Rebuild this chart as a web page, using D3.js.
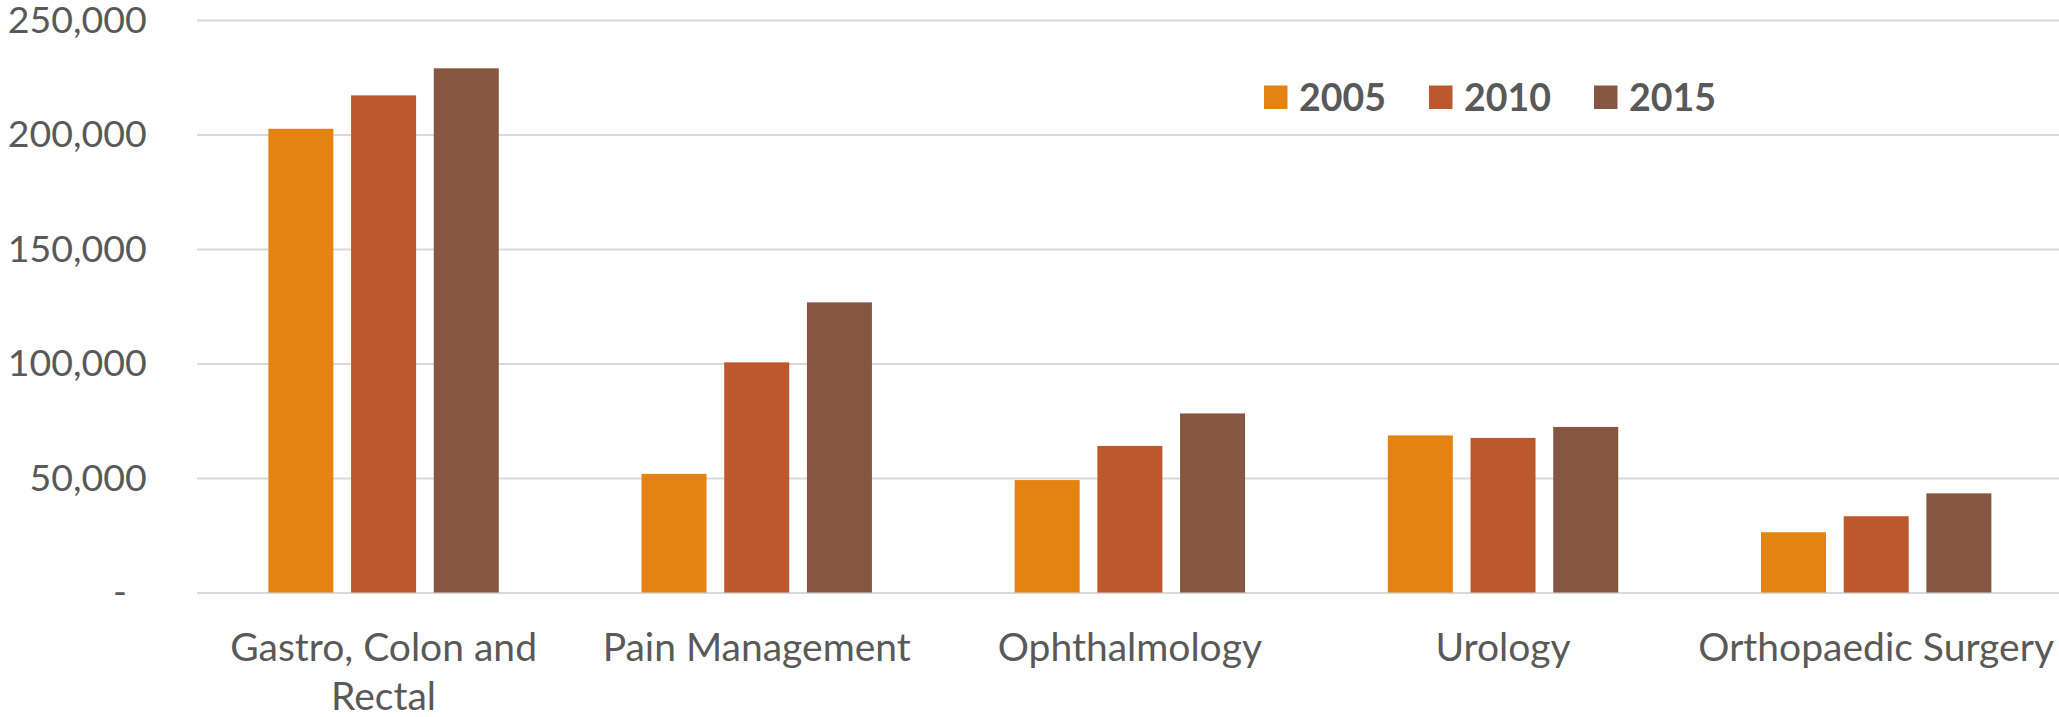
<!DOCTYPE html>
<html>
<head>
<meta charset="utf-8">
<script src="https://cdn.jsdelivr.net/npm/d3@7"></script>
<style>
    body { margin: 0; background: #fff; }
    svg { display: block; }
    text { font-family: Lato, "Open Sans", sans-serif; fill: #595959; }
</style>
</head>
<body>
<svg id="chart" width="2059" height="717"></svg>
<script>
(function () {
    "use strict";

    // chart data
    var categories = ["Gastro, Colon and Rectal", "Pain Management", "Ophthalmology", "Urology", "Orthopaedic Surgery"];
    var years = ["2005", "2010", "2015"];
    var values2005 = [202500, 51800, 49100, 68600, 26300];
    var values2010 = [217100, 100500, 64000, 67500, 33300];
    var values2015 = [228900, 126700, 78200, 72300, 43300];
    var yTicks = [0, 50000, 100000, 150000, 200000, 250000];
    var colors = ["#E48312", "#BD582C", "#865640"];

    var series = [values2005, values2010, values2015];

    var width = 2059,
        left = 197,
        top = 20,
        bottom = 592.5,
        step = 373.15;

    var $svg = d3.select("#chart");

    var x0 = d3.scaleBand()
        .domain(categories)
        .range([left, left + step * categories.length])
        .padding(0);

    var groupWidth = 230.4;
    var x1 = d3.scaleBand()
        .domain(years)
        .range([0, groupWidth])
        .paddingInner(0.214)
        .paddingOuter(0);

    var y = d3.scaleLinear()
        .domain([0, 250000])
        .range([bottom, top]);

    // y axis with gridlines
    var yAxis = d3.axisLeft(y)
        .tickValues(yTicks)
        .tickSize(-(width - left))
        .tickPadding(0)
        .tickFormat(function (d) {
            return d === 0 ? "-" : d3.format(",")(d);
        });

    var $yAxis = $svg.append("g")
        .attr("transform", "translate(" + left + ",0)")
        .call(yAxis);

    $yAxis.select(".domain").remove();
    $yAxis.selectAll(".tick line")
        .attr("stroke", "#d9d9d9")
        .attr("stroke-width", 2);
    $yAxis.selectAll(".tick text")
        .attr("x", function (d) { return d === 0 ? -70 : -50.3; })
        .attr("dy", "0.32em")
        .attr("text-anchor", "end")
        .style("font-size", "37.5px")
        .style("fill", "#595959");

    // bars
    var $groups = $svg.append("g")
        .selectAll(".group")
        .data(categories)
        .enter()
        .append("g")
        .attr("class", "group")
        .attr("transform", function (c) {
            return "translate(" + (x0(c) + (x0.bandwidth() - groupWidth) / 2) + ",0)";
        });

    $groups.selectAll("rect")
        .data(function (c, i) {
            return years.map(function (yr, s) {
                return { year: yr, value: series[s][i], color: colors[s] };
            });
        })
        .enter()
        .append("rect")
        .attr("x", function (d) { return x1(d.year); })
        .attr("width", x1.bandwidth())
        .attr("y", function (d) { return y(d.value); })
        .attr("height", function (d) { return y(0) - y(d.value); })
        .attr("fill", function (d) { return d.color; });

    // category labels, wrapped like Excel does
    var $labels = $svg.append("g");
    categories.forEach(function (c) {
        var cx = x0(c) + x0.bandwidth() / 2;
        var $t = $labels.append("text")
            .attr("x", cx)
            .attr("y", 661)
            .attr("text-anchor", "middle")
            .style("font-size", "39px")
            .text(c);
        if ($t.node().getComputedTextLength() > 380) {
            var words = c.split(" "),
                line1 = [],
                rest = words.slice();
            $t.text("");
            while (rest.length) {
                line1.push(rest.shift());
                $t.text(line1.join(" "));
                if ($t.node().getComputedTextLength() > 360) {
                    rest.unshift(line1.pop());
                    break;
                }
            }
            $t.text(line1.join(" "));
            $labels.append("text")
                .attr("x", cx)
                .attr("y", 710)
                .attr("text-anchor", "middle")
                .style("font-size", "39px")
                .text(rest.join(" "));
        }
    });

    // legend
    var legendX = 1264,
        legendStep = 165;
    var $legend = $svg.append("g")
        .selectAll(".legend")
        .data(years)
        .enter()
        .append("g")
        .attr("class", "legend")
        .attr("transform", function (d, i) {
            return "translate(" + (legendX + i * legendStep) + ",85.5)";
        });

    $legend.append("rect")
        .attr("width", 23.5)
        .attr("height", 23.5)
        .attr("fill", function (d, i) { return colors[i]; });

    $legend.append("text")
        .attr("x", 35)
        .attr("y", 25.5)
        .style("font-size", "37.5px")
        .style("font-weight", "bold")
        .text(String);
}());
</script>
</body>
</html>
